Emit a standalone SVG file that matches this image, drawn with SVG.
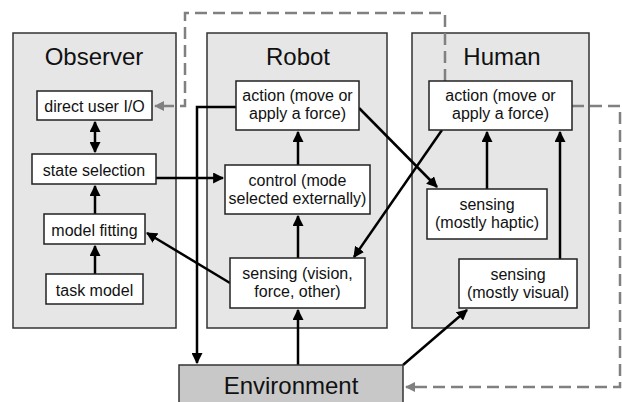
<svg xmlns="http://www.w3.org/2000/svg" width="622" height="402" viewBox="0 0 622 402">
<defs>
<style>
.panel{fill:#e6e6e6;stroke:#333;stroke-width:1.5}
.box{fill:#fff;stroke:#222;stroke-width:1.5}
.env{fill:#c8c8c8;stroke:#333;stroke-width:1.5}
.t{font-family:"Liberation Sans",Arial,sans-serif;font-size:16px;fill:#111;text-anchor:middle}
.title{font-family:"Liberation Sans",Arial,sans-serif;font-size:24px;fill:#111;text-anchor:middle}
.c{fill:none;stroke:#000;stroke-width:2.5}
.d{fill:none;stroke:#808080;stroke-width:2.5;stroke-dasharray:12,6}
</style>
<marker id="a" viewBox="0 0 10 10" refX="9" refY="5" markerWidth="4.4" markerHeight="4.4" orient="auto-start-reverse" markerUnits="strokeWidth">
<path d="M0,0 L10,5 L0,10 z" fill="#000"/>
</marker>
<marker id="g" viewBox="0 0 10 10" refX="9" refY="5" markerWidth="4" markerHeight="4" orient="auto" markerUnits="strokeWidth">
<path d="M0,0 L10,5 L0,10 z" fill="#808080"/>
</marker>
</defs>
<g id="observer-panel"><rect class="panel" x="13" y="33" width="163" height="295"/><text class="title" x="94" y="65">Observer</text></g>
<g id="robot-panel"><rect class="panel" x="207" y="33" width="180" height="295"/><text class="title" x="298" y="65">Robot</text></g>
<g id="human-panel"><rect class="panel" x="412" y="33" width="177" height="295"/><text class="title" x="502" y="65">Human</text></g>
<g id="connectors">
<polyline class="d" points="445,81 445,13 185,13 185,106 155,106" marker-end="url(#g)"/>
<polyline class="d" points="572,106 620,106 620,387 406,387" marker-end="url(#g)"/>
<line class="c" x1="95" y1="122" x2="95" y2="152" marker-start="url(#a)" marker-end="url(#a)"/>
<line class="c" x1="95" y1="214" x2="95" y2="186" marker-end="url(#a)"/>
<line class="c" x1="95" y1="274" x2="95" y2="246" marker-end="url(#a)"/>
<line class="c" x1="156" y1="178" x2="223" y2="178" marker-end="url(#a)"/>
<polyline class="c" points="236,107 197,107 197,363" marker-end="url(#a)"/>
<line class="c" x1="298" y1="165" x2="298" y2="132" marker-end="url(#a)"/>
<line class="c" x1="298" y1="258" x2="298" y2="216" marker-end="url(#a)"/>
<line class="c" x1="298" y1="365" x2="298" y2="310" marker-end="url(#a)"/>
<line class="c" x1="230" y1="283" x2="147" y2="233" marker-end="url(#a)"/>
<line class="c" x1="359" y1="108" x2="437" y2="187" marker-end="url(#a)"/>
<line class="c" x1="442" y1="130" x2="354" y2="257" marker-end="url(#a)"/>
<line class="c" x1="487" y1="189" x2="487" y2="132" marker-end="url(#a)"/>
<line class="c" x1="560" y1="259" x2="560" y2="132" marker-end="url(#a)"/>
<line class="c" x1="403" y1="365" x2="467" y2="310" marker-end="url(#a)"/>
</g>
<g id="direct-user-io"><rect class="box" x="37" y="91" width="115" height="29"/><text class="t" x="94.5" y="112">direct user I/O</text></g>
<g id="state-selection"><rect class="box" x="32" y="154" width="124" height="30"/><text class="t" x="94" y="176">state selection</text></g>
<g id="model-fitting"><rect class="box" x="44" y="214" width="101" height="30"/><text class="t" x="94.5" y="236">model fitting</text></g>
<g id="task-model"><rect class="box" x="46" y="274" width="97" height="30"/><text class="t" x="94.5" y="296">task model</text></g>
<g id="robot-action"><rect class="box" x="236" y="81" width="123" height="49"/><text class="t" x="297.5" y="101">action (move or</text><text class="t" x="297.5" y="119">apply a force)</text></g>
<g id="robot-control"><rect class="box" x="225" y="165" width="145" height="49"/><text class="t" x="297.5" y="186">control (mode</text><text class="t" x="297.5" y="204">selected externally)</text></g>
<g id="robot-sensing"><rect class="box" x="230" y="258" width="135" height="50"/><text class="t" x="297.5" y="279">sensing (vision,</text><text class="t" x="297.5" y="297">force, other)</text></g>
<g id="human-action"><rect class="box" x="429" y="81" width="143" height="49"/><text class="t" x="500.5" y="101">action (move or</text><text class="t" x="500.5" y="119">apply a force)</text></g>
<g id="human-sensing-haptic"><rect class="box" x="427" y="189" width="120" height="50"/><text class="t" x="487" y="210">sensing</text><text class="t" x="487" y="228">(mostly haptic)</text></g>
<g id="human-sensing-visual"><rect class="box" x="459" y="259" width="118" height="49"/><text class="t" x="518" y="280">sensing</text><text class="t" x="518" y="298">(mostly visual)</text></g>
<g id="environment"><rect class="env" x="179" y="365" width="224" height="40"/><text class="title" x="291" y="394">Environment</text></g>
</svg>
